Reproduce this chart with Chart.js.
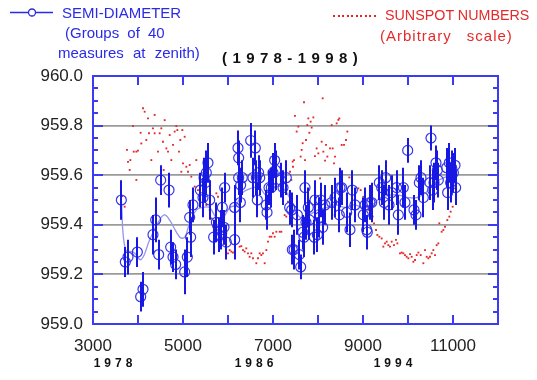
<!DOCTYPE html>
<html><head><meta charset="utf-8">
<script src="https://cdn.jsdelivr.net/npm/chart.js@4"></script>
<style>
html,body{margin:0;padding:0;background:#fff;}
#wrap{position:relative;width:537px;height:380px;overflow:hidden;font-family:"Liberation Sans",Arial,sans-serif;}
#wrap canvas{position:absolute;left:0;top:0;}
.t{position:absolute;white-space:pre;line-height:1;}
.b{color:#2a2ae8;font-size:15px;}
.r{color:#e42a2a;font-size:15px;}
</style></head><body>
<div id="wrap">
<canvas id="c" width="537" height="380"></canvas>
<div class="t b" style="left:62px;top:5px;">SEMI-DIAMETER</div>
<div class="t b" style="left:65px;top:25px;word-spacing:4px;">(Groups of 40</div>
<div class="t b" style="left:58px;top:45px;word-spacing:5px;">measures at zenith)</div>
<div class="t r" style="left:385px;top:8px;font-size:14.3px;">SUNSPOT NUMBERS</div>
<div class="t r" style="left:380px;top:28px;letter-spacing:1px;word-spacing:10px;">(Arbitrary scale)</div>
<div class="t" style="left:222px;top:50px;font-size:15px;font-weight:bold;letter-spacing:5.4px;color:#111;">(1978-1998)</div>
</div>
<script>
// Semi-diameter (arcsec, 959 + ...) with error bars
const sdX = [3630,3718,3778,3985,4059,4111,4333,4393,4459,4504,4689,4726,4778,4837,5037,5096,5148,5170,5222,5385,5444,5467,5496,5518,5555,5593,5681,5741,5800,5852,5874,5911,5926,5963,6148,6148,6222,6237,6237,6274,6281,6318,6504,6555,6607,6630,6652,6681,6704,6852,6867,6911,6963,7000,7037,7059,7170,7222,7296,7370,7429,
 7415,7467,7541,7585,7615,7659,7689,7711,7733,7785,7808,7919,7933,7985,8030,8059,8104,8156,8304,8378,8474,8489,8526,8637,8711,8763,8822,9007,9045,9082,9096,9156,9193,9363,9415,9474,9504,9578,9637,9748,9785,9896,9933,9993,10133,10178,10252,10289,10341,10489,10511,10548,10578,10622,10652,10674,10859,10881,10918,10948,10970,11008,11045,11059];
const sdY = [959.50,959.25,959.27,959.29,959.11,959.14,959.36,959.42,959.28,959.58,959.54,959.31,959.27,959.24,959.21,959.27,959.43,959.35,959.48,959.54,959.51,959.59,959.57,959.61,959.65,959.50,959.35,959.41,959.36,959.38,959.47,959.39,959.55,959.33,959.34,959.47,959.71,959.67,959.59,959.49,959.56,959.59,959.74,959.59,959.71,959.59,959.50,959.61,959.59,959.48,959.45,959.55,959.55,959.61,959.66,959.62,959.58,959.55,959.59,959.47,959.30,
 959.46,959.30,959.44,959.28,959.23,959.37,959.35,959.55,959.41,959.47,959.42,959.35,959.50,959.36,959.43,959.50,959.39,959.48,959.49,959.51,959.44,959.55,959.55,959.45,959.38,959.54,959.48,959.44,959.48,959.38,959.37,959.49,959.49,959.57,959.55,959.49,959.59,959.48,959.53,959.55,959.44,959.55,959.49,959.70,959.46,959.44,959.57,959.59,959.51,959.57,959.75,959.54,959.57,959.65,959.62,959.58,959.63,959.53,959.65,959.57,959.63,959.61,959.64,959.55];
const sdErr = [0.08,0.06,0.07,0.06,0.06,0.07,0.08,0.09,0.06,0.06,0.07,0.07,0.06,0.06,0.09,0.08,0.07,0.08,0.07,0.07,0.08,0.08,0.08,0.09,0.08,0.08,0.07,0.08,0.07,0.08,0.08,0.07,0.06,0.07,0.08,0.09,0.07,0.07,0.07,0.08,0.07,0.07,0.07,0.08,0.07,0.07,0.07,0.07,0.07,0.06,0.07,0.07,0.08,0.08,0.07,0.08,0.07,0.07,0.07,0.07,0.06,
 0.07,0.08,0.08,0.06,0.05,0.07,0.08,0.07,0.07,0.08,0.08,0.07,0.08,0.07,0.08,0.07,0.07,0.08,0.07,0.08,0.07,0.08,0.07,0.08,0.07,0.08,0.07,0.07,0.07,0.06,0.07,0.07,0.08,0.07,0.07,0.07,0.07,0.08,0.07,0.07,0.08,0.08,0.07,0.05,0.06,0.06,0.07,0.07,0.08,0.07,0.05,0.08,0.08,0.07,0.08,0.07,0.08,0.07,0.08,0.08,0.07,0.08,0.07,0.07];
// Smoothed curve through semi-diameter
const smX = [3630,3720,3900,4070,4260,4480,4590,4700,4930,5040,5150,5300,5450,5590,5740,5890,6040,6180,6330,6560,6700,6850,7000,7200,7400,7600,7800,8000,8200,8400,8600,8800,9000,9200,9400,9600,9800,10000,10200,10400,10600,10800,11000];
const smY = [959.50,959.30,959.29,959.26,959.34,959.42,959.44,959.42,959.35,959.35,959.41,959.46,959.47,959.47,959.43,959.43,959.47,959.48,959.53,959.55,959.55,959.52,959.55,959.55,959.50,959.43,959.44,959.46,959.47,959.48,959.47,959.48,959.47,959.48,959.51,959.52,959.52,959.51,959.51,959.53,959.57,959.59,959.60];
// Sunspot numbers (arbitrary scale, plotted on same y axis)
const ssX = [3652,3704,3756,3778,3815,3830,3889,3904,3963,3963,4000,4059,4074,4111,4148,4185,4222,4244,4296,4333,4370,4370,4444,4481,4518,4555,4570,4593,4630,4667,4704,4741,4778,4815,4852,4874,4911,4941,4963,4985,5000,5037,5074,5111,5148,5185,5259,5296,5333,5370,5444,5481,5518,5593,5630,5667,5741,5778,5815,5852,5926,5963,6000,6037,6074,6111,6148,6259,6296,6333,6370,6407,6444,6481,6518,6555,6630,6667,6704,6741,6778,6815,6852,6889,6926,6963,7000,7037,7074,7148,7185,7259,7296,7333,7370,7407,7444,
 7378,7437,7467,7489,7526,7563,7615,7637,7659,7689,7711,7733,7763,7785,7808,7837,7859,7897,7933,7970,8008,8045,8082,8104,8119,8156,8178,8208,8267,8304,8326,8356,8378,8415,8452,8474,8526,8578,8622,8652,8696,8748,8822,8896,8948,9007,9067,9119,9156,9215,9245,9289,9319,9363,9415,9452,9489,9526,9563,9600,9637,9689,9733,9763,9822,9859,9896,9933,9970,10008,10045,10082,10119,10156,10193,10230,10282,10341,10378,10415,10452,10489,10526,10563,10600,10637,10674,10696,10748,10785,10822,10874,10918,10948,10993,11022,11067];
const ssY = [959.516,959.473,959.702,959.654,959.621,959.661,959.798,959.695,959.695,959.581,959.699,959.771,959.728,959.870,959.856,959.742,959.829,959.769,959.661,959.789,959.843,959.769,959.695,959.769,959.789,959.735,959.621,959.822,959.708,959.695,959.762,959.661,959.722,959.776,959.798,959.782,959.695,959.742,959.614,959.782,959.648,959.755,959.634,959.614,959.641,959.594,959.554,959.661,959.540,959.513,959.500,959.540,959.480,959.460,959.426,959.392,959.527,959.513,959.406,959.352,959.325,959.366,959.285,959.298,959.292,959.288,959.292,959.312,959.314,959.298,959.292,959.305,959.285,959.271,959.285,959.265,959.245,959.265,959.285,959.278,959.285,959.245,959.298,959.332,959.352,959.352,959.366,959.352,959.372,959.372,959.372,959.439,959.433,959.493,959.527,959.581,959.634,
 959.614,959.655,959.661,959.839,959.776,959.796,959.675,959.702,959.729,959.894,959.661,959.742,959.802,959.829,959.771,959.816,959.792,959.833,959.677,959.708,959.688,959.587,959.735,959.910,959.695,959.659,959.722,959.675,959.708,959.802,959.708,959.648,959.675,959.809,959.823,959.829,959.722,959.722,959.742,959.776,959.591,959.486,959.540,959.547,959.540,959.513,959.473,959.460,959.439,959.433,959.406,959.379,959.359,959.352,959.345,959.312,959.325,959.332,959.318,959.312,959.332,959.318,959.339,959.325,959.285,959.288,959.285,959.278,959.271,959.265,959.282,959.271,959.251,959.258,959.278,959.288,959.278,959.245,959.298,959.271,959.265,959.271,959.285,959.298,959.278,959.318,959.325,959.406,959.372,959.379,959.392,959.419,959.433,959.453,959.473,959.547,959.554];
// Axis labels
const xTickLabels = [3000,5000,7000,9000,11000];
const yTickLabels = [959.0,959.2,959.4,959.6,959.8,960.0];
const yearLabels = ['1978','1986','1994'];
const yearPos = [3444,6578,9667];

const BLUE = '#3b3bf2';
const isMajorY = v => yTickLabels.some(t => Math.abs(t - v) < 1e-6);

const decor = {
  id:'decor',
  afterDatasetsDraw(chart){
    const ctx = chart.ctx, xs = chart.scales.x, ys = chart.scales.y;
    ctx.save();
    ctx.strokeStyle = '#1818e4'; ctx.lineWidth = 2;
    sdX.forEach((x,i)=>{
      const px = Math.round(xs.getPixelForValue(x));
      ctx.beginPath();
      ctx.moveTo(px, ys.getPixelForValue(sdY[i]+sdErr[i]));
      ctx.lineTo(px, ys.getPixelForValue(sdY[i]-sdErr[i]));
      ctx.stroke();
    });
    ctx.restore();
  },
  afterDraw(chart){
    const ctx = chart.ctx, a = chart.chartArea, xs = chart.scales.x, ys = chart.scales.y;
    ctx.save();
    ctx.strokeStyle = BLUE; ctx.lineWidth = 2;
    ctx.strokeRect(a.left, a.top, a.right - a.left, a.bottom - a.top);
    ctx.beginPath();
    for (let v = 4000; v < 12000; v += 1000) {
      const px = Math.round(xs.getPixelForValue(v));
      ctx.moveTo(px, a.bottom); ctx.lineTo(px, a.bottom - 9);
      ctx.moveTo(px, a.top); ctx.lineTo(px, a.top + 9);
    }
    ys.ticks.forEach(t => {
      const py = Math.round(ys.getPixelForValue(t.value));
      const len = isMajorY(t.value) ? 10 : 5;
      ctx.moveTo(a.left, py); ctx.lineTo(a.left + len, py);
      ctx.moveTo(a.right, py); ctx.lineTo(a.right - len, py);
    });
    ctx.stroke();
    // year labels
    ctx.fillStyle = '#111';
    ctx.font = 'bold 12px "Liberation Sans", Arial, sans-serif';
    ctx.letterSpacing = '4px';
    ctx.textAlign = 'center'; ctx.textBaseline = 'middle';
    yearLabels.forEach((s,i)=> ctx.fillText(s, xs.getPixelForValue(yearPos[i]) + 2, 364));
    ctx.letterSpacing = '0px';
    // legend markers
    ctx.strokeStyle = '#2a2ae8'; ctx.lineWidth = 1.3;
    ctx.beginPath(); ctx.moveTo(10, 12.5); ctx.lineTo(53, 12.5); ctx.stroke();
    ctx.fillStyle = '#fff';
    ctx.beginPath(); ctx.arc(32, 12.5, 3.5, 0, Math.PI*2); ctx.fill(); ctx.stroke();
    ctx.fillStyle = '#e42525';
    for (let x = 333; x <= 374; x += 4.5) ctx.fillRect(Math.round(x), 15, 2, 2);
    ctx.restore();
  }
};

new Chart(document.getElementById('c'), {
  type: 'scatter',
  data: { datasets: [
    { label:'Semi-diameter', data: sdX.map((x,i)=>({x, y: sdY[i]})), pointStyle:'circle', pointRadius:5, borderColor:'#3636ea', borderWidth:1.2, backgroundColor:'rgba(0,0,0,0)', order:1 },
    { label:'Sunspot numbers', data: ssX.map((x,i)=>({x, y: ssY[i]})), pointStyle:'rect', pointRadius:1.3, backgroundColor:'#e42525', borderWidth:0, order:2 },
    { label:'Smooth', data: smX.map((x,i)=>({x, y: smY[i]})), showLine:true, pointRadius:0, borderColor:'#9494ee', borderWidth:1.3, tension:0.4, order:3 }
  ]},
  options: {
    responsive:false, animation:false, events:[],
    layout:{ padding:{ left:0, right:39, top:76, bottom:0 } },
    plugins:{ legend:{display:false}, tooltip:{enabled:false} },
    scales:{
      x:{ type:'linear', min:3000, max:12000,
          afterFit(s){ s.height = 56; },
          ticks:{ stepSize:1000, autoSkip:false, maxRotation:0, padding:12, color:'#222',
                  font:{ family:'"Liberation Sans", Arial, sans-serif', size:17 },
                  callback:(v)=> xTickLabels.includes(v) ? String(v) : '' },
          grid:{ display:false, drawTicks:false }, border:{ display:false } },
      y:{ min:959, max:960,
          afterFit(s){ s.width = 93; },
          ticks:{ stepSize:0.05, autoSkip:false, padding:10, color:'#222',
                  font:{ family:'"Liberation Sans", Arial, sans-serif', size:17 },
                  callback:(v)=> isMajorY(v) ? Number(v).toFixed(1) : '' },
          grid:{ drawTicks:false, lineWidth:1.8,
                 color:(c)=> (c.tick && isMajorY(c.tick.value) && c.tick.value > 959.01 && c.tick.value < 959.99) ? '#9a9a9a' : 'rgba(0,0,0,0)' },
          border:{ display:false } }
    }
  },
  plugins:[decor]
});
</script>
</body></html>
